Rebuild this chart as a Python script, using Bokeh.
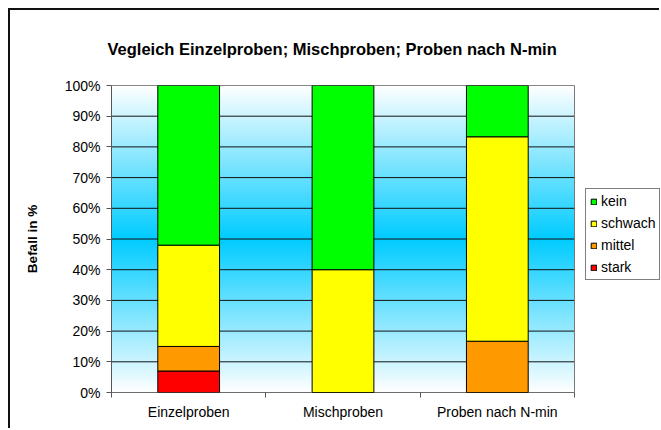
import numpy as np
from bokeh.plotting import figure
from bokeh.models import (FixedTicker, PrintfTickFormatter, Legend, LegendItem,
                          Range1d, ColumnDataSource)
from bokeh.embed import file_html
from bokeh.resources import INLINE

# ---- data ----
categories = ["Einzelproben", "Mischproben", "Proben nach N-min"]
levels = ["stark", "mittel", "schwach", "kein"]
stark = [7, 0, 0]
mittel = [8, 0, 16.7]
schwach = [33, 40, 66.6]
kein = [52, 60, 16.7]
colors = ["#FF0000", "#FF9900", "#FFFF00", "#00FF00"]
y_ticks = list(range(0, 101, 10))
title_text = "Vegleich Einzelproben; Mischproben; Proben nach N-min"
y_label = "Befall in %"

FONT = "Liberation Sans"
x_pos = list(range(len(categories)))
x_lo, x_hi = -0.5, len(categories) - 0.5
y_lo, y_hi = 0, 100

# layout (pixels)
W, H = 651, 420
B_LEFT, B_TOP, B_BOTTOM, B_RIGHT = 101, 71, 38, 0
PLOT_AREA_PX = 463           # width of the category area inside the frame
frame_px = W - B_LEFT - B_RIGHT
x_end = x_lo + (x_hi - x_lo) * frame_px / PLOT_AREA_PX

src = ColumnDataSource(dict(x=x_pos, stark=stark, mittel=mittel,
                            schwach=schwach, kein=kein))

p = figure(width=W, height=H, x_range=Range1d(x_lo, x_end),
           y_range=Range1d(y_lo, y_hi), output_backend="svg",
           toolbar_location=None, min_border_left=B_LEFT,
           min_border_right=B_RIGHT, min_border_top=B_TOP,
           min_border_bottom=B_BOTTOM,
           background_fill_color="white", border_fill_color="white")
p.styles = {"border-top": "2px solid #111", "border-left": "2px solid #111",
            "margin-left": "8px", "margin-top": "8px"}
p.outline_line_color = None

# ---- background gradient (white -> cyan -> white) ----
n = 320
yy = np.linspace(y_lo, y_hi, n)
t = np.abs(yy - 50) / 50.0
r = (255 * t + 0 * (1 - t)).astype(np.uint8)
g = (255 * t + 204 * (1 - t)).astype(np.uint8)
b = np.full(n, 255, dtype=np.uint8)
img = np.zeros((n, 1), dtype=np.uint32)
view = img.view(dtype=np.uint8).reshape((n, 1, 4))
view[:, 0, 0] = r
view[:, 0, 1] = g
view[:, 0, 2] = b
view[:, 0, 3] = 255
p.image_rgba(image=[img], x=x_lo, y=y_lo, dw=x_hi - x_lo, dh=y_hi - y_lo,
             level="image")

# ---- grid lines limited to the plot area ----
p.xgrid.visible = False
p.ygrid.visible = False
p.segment(x0=[x_lo] * len(y_ticks), y0=y_ticks, x1=[x_hi] * len(y_ticks),
          y1=y_ticks, line_color="#111111", line_width=1, level="underlay")
p.segment(x0=[x_hi], y0=[y_lo], x1=[x_hi], y1=[y_hi], line_color="#777777",
          line_width=1, level="underlay")
p.segment(x0=[x_lo], y0=[y_lo], x1=[x_hi], y1=[y_lo], line_color="#555555",
          line_width=1, level="underlay")

# ---- bars ----
rs = p.vbar_stack(levels, x="x", width=0.4, color=colors, line_color="black",
                  line_width=1, source=src)

# ---- title ----
p.title.text = title_text
p.title.align = "left"
p.title.offset = -4
p.title.text_font = FONT
p.title.text_font_size = "16.5px"
p.title.text_font_style = "bold"
p.title.text_color = "black"
p.title.standoff = 55

# ---- axes ----
xa = p.xaxis[0]
xa.ticker = FixedTicker(ticks=x_pos, minor_ticks=[x_lo + i for i in range(len(categories) + 1)])
xa.major_label_overrides = {i: c for i, c in zip(x_pos, categories)}
xa.major_tick_in = 0
xa.major_tick_out = 0
xa.minor_tick_in = 0
xa.minor_tick_out = 5
xa.minor_tick_line_color = "#555555"
xa.axis_line_color = None
xa.major_label_text_font = FONT
xa.major_label_text_font_size = "14px"
xa.major_label_text_color = "black"
xa.major_label_standoff = 6

ya = p.yaxis[0]
ya.ticker = FixedTicker(ticks=y_ticks, minor_ticks=[])
ya.formatter = PrintfTickFormatter(format="%d%%")
ya.major_tick_in = 0
ya.major_tick_out = 5
ya.major_tick_line_color = "#555555"
ya.axis_line_color = "#555555"
ya.major_label_text_font = FONT
ya.major_label_text_font_size = "14px"
ya.major_label_text_color = "black"
ya.major_label_standoff = 6
ya.axis_label = y_label
ya.axis_label_text_font = FONT
ya.axis_label_text_font_size = "13.5px"
ya.axis_label_text_font_style = "bold"
ya.axis_label_text_color = "black"
ya.axis_label_standoff = 22

# ---- legend ----
items = [LegendItem(label=lv, renderers=[r]) for lv, r in zip(levels, rs)][::-1]
legend = Legend(items=items, location=(474, 112))
legend.border_line_color = "black"
legend.border_line_width = 1
legend.background_fill_color = "white"
legend.background_fill_alpha = 1
legend.label_text_font = FONT
legend.label_text_font_size = "14px"
legend.label_text_color = "black"
legend.glyph_width = 7
legend.glyph_height = 7
legend.label_standoff = 4
legend.label_height = 16
legend.spacing = 6
legend.padding = 4
legend.margin = 0
p.add_layout(legend, "center")

open("out.html", "w").write(file_html(p, INLINE))
